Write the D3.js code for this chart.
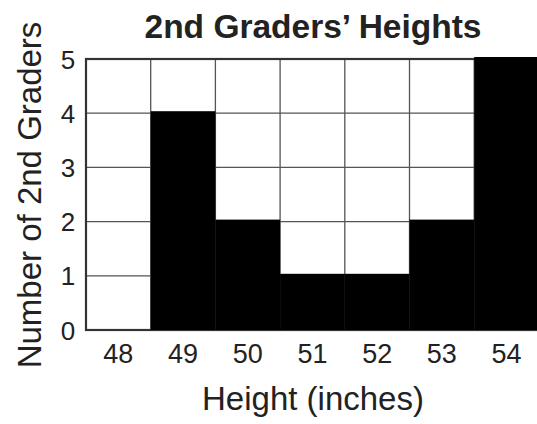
<!DOCTYPE html>
<html>
<head>
<meta charset="utf-8">
<script src="https://cdn.jsdelivr.net/npm/d3@7"></script>
<style>
  body { margin: 0; background: #fff; }
  svg { display: block; }
</style>
</head>
<body>
<svg id="chart" width="537" height="424"></svg>
<script>
const heights = ['48', '49', '50', '51', '52', '53', '54']
const counts = [0, 4, 2, 1, 1, 2, 5]
const yTicks = [0, 1, 2, 3, 4, 5]

const svg = d3.select('#chart')
const plotLeft = 86, plotTop = 59, colW = 64.7, plotBottom = 330

const x = d3.scaleBand()
    .domain(heights)
    .range([plotLeft, plotLeft + colW * heights.length])
    .padding(0)
const y = d3.scaleLinear()
    .domain([0, 5])
    .range([plotBottom, plotTop])

// grid
const grid = svg.append('g')
grid.selectAll('line.v')
    .data(heights.slice(1))
    .enter()
    .append('line')
    .attr('x1', d => x(d)).attr('x2', d => x(d))
    .attr('y1', y(0)).attr('y2', y(5))
    .attr('stroke', '#555').attr('stroke-width', 1.3)
grid.selectAll('line.h')
    .data(yTicks.slice(1, -1))
    .enter()
    .append('line')
    .attr('x1', x.range()[0]).attr('x2', x.range()[1])
    .attr('y1', d => y(d)).attr('y2', d => y(d))
    .attr('stroke', '#555').attr('stroke-width', 1.3)

// frame
svg.append('rect')
    .attr('x', x.range()[0]).attr('y', y(5))
    .attr('width', x.range()[1] - x.range()[0])
    .attr('height', y(0) - y(5))
    .attr('fill', 'none')
    .attr('stroke', '#333').attr('stroke-width', 2.2)

// bars
svg.append('g')
    .selectAll('rect')
    .data(heights.map((h, i) => ({h: h, c: counts[i]})))
    .enter()
    .append('rect')
    .attr('x', d => x(d.h))
    .attr('y', d => y(d.c) - 2)
    .attr('width', x.bandwidth())
    .attr('height', d => d.c > 0 ? y(0) - y(d.c) + 2 : 0)
    .attr('fill', '#000')

const font = '"Liberation Sans", Arial, sans-serif'

// y tick labels
svg.append('g')
    .selectAll('text')
    .data(yTicks)
    .enter()
    .append('text')
    .attr('x', 68)
    .attr('y', d => y(d) + 9.5)
    .attr('text-anchor', 'middle')
    .attr('font-family', font)
    .attr('font-size', 26)
    .attr('fill', '#222')
    .text(d => d)

// x tick labels
svg.append('g')
    .selectAll('text')
    .data(heights)
    .enter()
    .append('text')
    .attr('x', d => x(d) + x.bandwidth() / 2)
    .attr('y', 363)
    .attr('text-anchor', 'middle')
    .attr('font-family', font)
    .attr('font-size', 27)
    .attr('fill', '#222')
    .text(d => d)

// title
svg.append('text')
    .attr('x', 313).attr('y', 38)
    .attr('text-anchor', 'middle')
    .attr('font-family', font)
    .attr('font-weight', 'bold')
    .attr('font-size', 33.5)
    .attr('fill', '#222')
    .text('2nd Graders\u2019 Heights')

// axis titles
svg.append('text')
    .attr('x', 313).attr('y', 410)
    .attr('text-anchor', 'middle')
    .attr('font-family', font)
    .attr('font-size', 33)
    .attr('fill', '#222')
    .text('Height (inches)')

svg.append('text')
    .attr('transform', 'translate(41,195) rotate(-90)')
    .attr('text-anchor', 'middle')
    .attr('font-family', font)
    .attr('font-size', 33)
    .attr('fill', '#222')
    .text('Number of 2nd Graders')
</script>
</body>
</html>
